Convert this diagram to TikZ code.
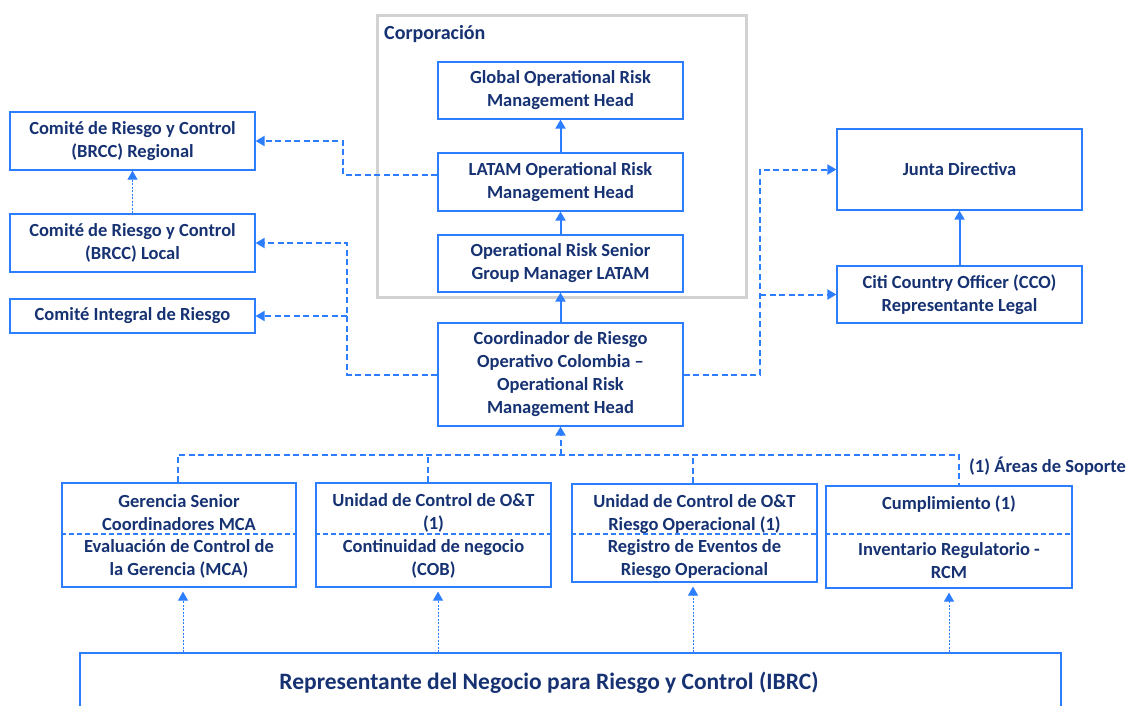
\documentclass[tikz,border=0pt]{standalone}
\usepackage{fontspec}
\setmainfont{Carlito}
\usetikzlibrary{arrows.meta}
\definecolor{navy}{RGB}{22,50,115}
\definecolor{lineblue}{RGB}{45,125,255}
\definecolor{corpgray}{RGB}{210,210,210}
\tikzset{
  box/.style={draw=lineblue, line width=1.2pt, rectangle, inner sep=0pt, fill=white},
  txt/.style={text=navy, font=\fontsize{18.5}{23}\selectfont\bfseries, align=center, inner sep=0pt},
  tip/.style={-{Triangle[length=9pt,width=10pt]}},
  solidarrow/.style={draw=lineblue, line width=2pt, tip},
  dashline/.style={draw=lineblue, line width=2pt, dash pattern=on 6pt off 3.5pt},
  dasharrow/.style={dashline, tip},
  dotarrow/.style={draw=lineblue, line width=1pt, dash pattern=on 2pt off 1.5pt, tip},
  divider/.style={draw=lineblue, line width=1.6pt, dash pattern=on 5pt off 3pt},
}
\begin{document}
\begin{tikzpicture}[x=1pt,y=-1pt]
\useasboundingbox (0,0) rectangle (1128,705);
\clip (0,0) rectangle (1128,705);
\fill[white] (0,0) rectangle (1128,705);

% Corporation frame
\node[draw=corpgray, line width=3pt, rectangle, inner sep=0pt, minimum width=369pt, minimum height=282pt] (corp) at (561.5,156) {};
\node[txt, anchor=west, font=\fontsize{20}{24}\selectfont\bfseries] (corplbl) at (384,34) {Corporación};

% central column
\node[box, minimum width=245pt, minimum height=57pt] (glob) at (560.5,90.5) {};
\node[txt] (globt) at (560.5,90.5) {Global Operational Risk\\Management Head};
\node[box, minimum width=245pt, minimum height=58pt] (latam) at (560.5,182) {};
\node[txt] (latamt) at (560.5,182) {LATAM Operational Risk\\Management Head};
\node[box, minimum width=245pt, minimum height=57pt] (senior) at (560.5,263.5) {};
\node[txt] (seniort) at (560.5,263.5) {Operational Risk Senior\\Group Manager LATAM};
\node[box, minimum width=245pt, minimum height=103pt] (coord) at (560.5,374.5) {};
\node[txt] (coordt) at (560.5,374.5) {Coordinador de Riesgo\\Operativo Colombia --\\Operational Risk\\Management Head};

% left column
\node[box, minimum width=245pt, minimum height=58pt] (regional) at (132.5,141) {};
\node[txt] (regionalt) at (132.5,141) {Comité de Riesgo y Control\\(BRCC) Regional};
\node[box, minimum width=245pt, minimum height=58pt] (local) at (132.5,243) {};
\node[txt] (localt) at (132.5,243) {Comité de Riesgo y Control\\(BRCC) Local};
\node[box, minimum width=245pt, minimum height=34pt] (integral) at (132.5,316) {};
\node[txt] (integralt) at (132.5,316) {Comité Integral de Riesgo};

% right column
\node[box, minimum width=245pt, minimum height=81pt] (junta) at (959.5,169.5) {};
\node[txt] (juntat) at (959.5,169.5) {Junta Directiva};
\node[box, minimum width=245pt, minimum height=57pt] (cco) at (959.5,294.5) {};
\node[txt] (ccot) at (959.5,294.5) {Citi Country Officer (CCO)\\Representante Legal};

% bottom boxes
\node[box, minimum width=234pt, minimum height=104pt] (b1) at (179,535) {};
\node[txt] (b1t) at (179,512.5) {Gerencia Senior\\Coordinadores MCA};
\node[txt] (b1b) at (179,558.5) {Evaluación de Control de\\la Gerencia (MCA)};
\draw[divider] (b1.west |- 0,534) -- (b1.east |- 0,534);

\node[box, minimum width=235pt, minimum height=104pt] (b2) at (433.5,535) {};
\node[txt] (b2t) at (433.5,512.5) {Unidad de Control de O\&T\\(1)};
\node[txt] (b2b) at (433.5,558.5) {Continuidad de negocio\\(COB)};
\draw[divider] (b2.west |- 0,534) -- (b2.east |- 0,534);

\node[box, minimum width=245pt, minimum height=98pt] (b3) at (694.5,533) {};
\node[txt] (b3t) at (694.5,514) {Unidad de Control de O\&T\\Riesgo Operacional (1)};
\node[txt] (b3b) at (694.5,559) {Registro de Eventos de\\Riesgo Operacional};
\draw[divider] (b3.west |- 0,534) -- (b3.east |- 0,534);

\node[box, minimum width=246pt, minimum height=102pt] (b4) at (949,537) {};
\node[txt] (b4t) at (949,504) {Cumplimiento (1)};
\node[txt] (b4b) at (949,560.5) {Inventario Regulatorio -\\RCM};
\draw[divider] (b4.west |- 0,534) -- (b4.east |- 0,534);

\node[txt, anchor=west] (areas) at (969,466) {(1) Áreas de Soporte};

% IBRC box (continues below the page)
\node[box, line width=1.6pt, minimum width=981pt, minimum height=120pt, anchor=north west] (ibrc) at (79,652) {};
\node[txt, font=\fontsize{23.5}{28}\selectfont\bfseries] (ibrct) at (549,683) {Representante del Negocio para Riesgo y Control (IBRC)};

% solid connectors
\draw[solidarrow] (latam) -- (glob);
\draw[solidarrow] (senior) -- (latam);
\draw[solidarrow] (coord) -- (senior);
\draw[solidarrow] (cco) -- (junta);

% left dashed connectors
\coordinate (lk1) at (343,175);
\draw[dasharrow] ([yshift=7pt]latam.west) -- (lk1) |- (regional.east);
\coordinate (lk2) at (347,374.5);
\coordinate (lk3) at (347,316);
\draw[dasharrow] (coord.west) -- (lk2) |- (local.east);
\draw[dasharrow] (lk3) -- (integral.east);
\draw[dotarrow] (local) -- (regional);

% right dashed connectors
\coordinate (rk1) at (760,374.5);
\coordinate (rk2) at (760,294.5);
\draw[dasharrow] (coord.east) -- (rk1) |- (junta.west);
\draw[dasharrow] (rk2) -- (cco.west);

% bus to bottom boxes
\coordinate (bus1) at (178,455);
\coordinate (bus4) at (959,455);
\coordinate (busc) at (560.5,455);
\draw[dashline] (b1.north -| bus1) -- (bus1) -- (bus4) -- (b4.north -| bus4);
\draw[dashline] (b2.north -| 428,0) -- (428,455);
\draw[dashline] (b3.north -| 693,0) -- (693,455);
\draw[dasharrow] (busc) -- (coord.south);

% dotted arrows from IBRC
\draw[dotarrow] (ibrc.north -| 183,0) -- ([yshift=-4pt]b1.south -| 183,0);
\draw[dotarrow] (ibrc.north -| 438,0) -- ([yshift=-4pt]b2.south -| 438,0);
\draw[dotarrow] (ibrc.north -| 693,0) -- ([yshift=-4pt]b3.south -| 693,0);
\draw[dotarrow] (ibrc.north -| 949,0) -- ([yshift=-4pt]b4.south -| 949,0);
\end{tikzpicture}
\end{document}
